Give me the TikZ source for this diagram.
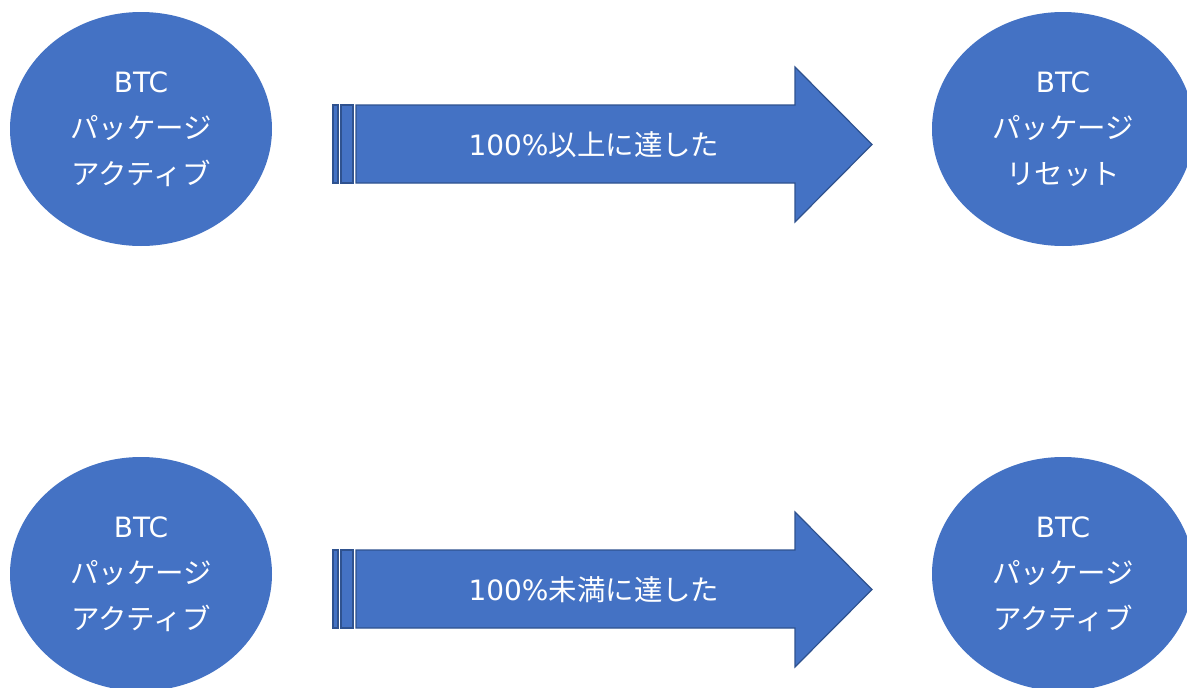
\documentclass[tikz,border=0pt]{standalone}
\usepackage{fontspec}
\setmainfont{DejaVu Sans}
\newfontfamily\jp[Scale=1.055]{Noto Sans CJK JP}
\usetikzlibrary{shapes.geometric}
\definecolor{pptblue}{HTML}{4472C4}
\definecolor{pptedge}{HTML}{2F528F}
\tikzset{
  pkgstate/.style={ellipse, fill=pptblue, text=white, minimum width=262pt, minimum height=234pt,
    inner sep=0pt, align=center, font=\fontsize{28}{46}\selectfont},
  arrowbody/.style={fill=pptblue, draw=pptedge, line width=1.2pt, line join=miter},
  arrowtext/.style={text=white, font=\fontsize{28}{32}\selectfont, inner sep=0pt},
}
\begin{document}
\begin{tikzpicture}[x=1pt,y=-1pt]
  \clip (0,0) rectangle (1187,688);
  \fill[white] (0,0) rectangle (1187,688);

  % one row per case: package state -> striped arrow -> resulting state
  \foreach \dy/\cond/\result [count=\i] in {0/以上/リセット, 445/未満/アクティブ}{
    \begin{scope}[yshift=-\dy pt]
      \node[pkgstate] (src\i) at (141,129) {BTC\\{\jp\fontsize{27}{46}\selectfont パッケージ}\\{\jp\fontsize{27}{46}\selectfont アクティブ}};
      \node[pkgstate] (dst\i) at (1063,129) {BTC\\{\jp\fontsize{27}{46}\selectfont パッケージ}\\{\jp\fontsize{27}{46}\selectfont\result}};

      \draw[arrowbody] (333,105) rectangle (338,183);
      \draw[arrowbody] (341,105) rectangle (353,183);
      \draw[arrowbody] (356,105) -- (795,105) -- (795,67) -- (872,144.5)
        -- (795,222) -- (795,183) -- (356,183) -- cycle;
      \node[arrowtext] (cond\i) at (594,145) {100\%{\jp\fontsize{27}{32}\selectfont\cond に達した}};
    \end{scope}
  }
\end{tikzpicture}
\end{document}
